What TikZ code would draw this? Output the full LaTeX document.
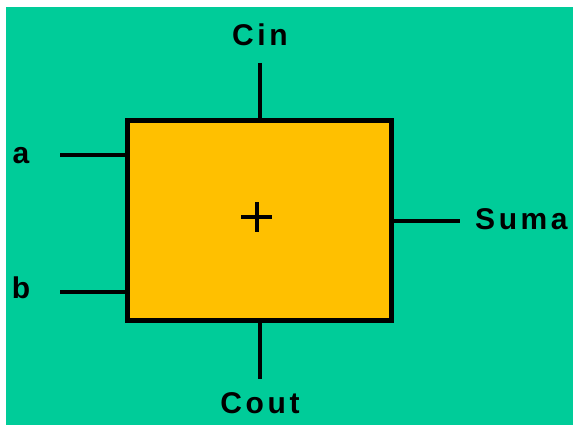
\documentclass[tikz,border=0pt]{standalone}
\usepackage{fontspec}
\setmainfont{Liberation Sans}[LetterSpace=12]
\definecolor{bgteal}{HTML}{00CC99}
\definecolor{boxfill}{HTML}{FFC000}
\begin{document}
\begin{tikzpicture}[x=1pt,y=-1pt,
  lbl/.style={font=\fontsize{30}{32}\selectfont\bfseries, inner sep=0pt, text=black},
  wire/.style={line width=4pt, black},
  adder/.style={draw=black, line width=5pt, fill=boxfill}]
\useasboundingbox (0,0) rectangle (573,425);
\fill[white] (0,0) rectangle (573,425);
\fill[bgteal] (6,7) rectangle (573,425);
\draw[adder] (127.5,120.5) rectangle (391.5,320.5);
\node[lbl] (cin) at (260,35) {Cin};
\node[lbl] (cout) at (260,403) {Cout};
\node[lbl] (a) at (21,155.5) {a};
\node[lbl] (b) at (21,288) {b};
\node[lbl, anchor=west] (suma) at (475,219) {Suma};
\coordinate (cinS) at (260,63);
\coordinate (cinE) at (260,120.5);
\coordinate (coutS) at (260,320.5);
\coordinate (coutE) at (260,379);
\coordinate (aS) at (60,155);
\coordinate (aE) at (127.5,155);
\coordinate (bS) at (60,292);
\coordinate (bE) at (127.5,292);
\coordinate (sS) at (391.5,221);
\coordinate (sE) at (460,221);
\draw[wire] (cinS) -- (cinE);
\draw[wire] (coutS) -- (coutE);
\draw[wire] (aS) -- (aE);
\draw[wire] (bS) -- (bE);
\draw[wire] (sS) -- (sE);
\coordinate (pl) at (241,217);
\coordinate (pr) at (272,217);
\coordinate (pt) at (256.5,202);
\coordinate (pb) at (256.5,232);
\draw[line width=4pt] (pl) -- (pr);
\draw[line width=4pt] (pt) -- (pb);
\end{tikzpicture}
\end{document}
